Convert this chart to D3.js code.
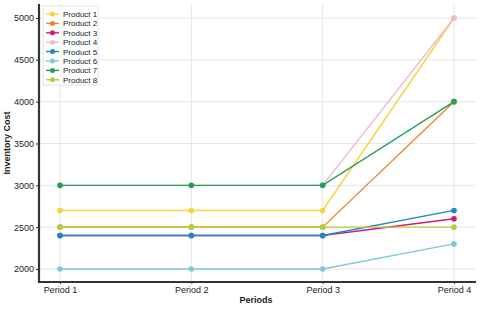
<!DOCTYPE html>
<html>
<head>
<meta charset="utf-8">
<script src="https://cdn.jsdelivr.net/npm/d3@7"></script>
<style>
	body { margin: 0; background: #fff; }
	svg { font-family: "Liberation Sans", Arial, sans-serif; }
</style>
</head>
<body>
<div id="chart"></div>
<script>
var periods = [ "Period 1", "Period 2", "Period 3", "Period 4" ];
var products = [ "Product 1", "Product 2", "Product 3", "Product 4", "Product 5", "Product 6", "Product 7", "Product 8" ];
var product1 = [ 2700, 2700, 2700, 5000 ];
var product2 = [ 2500, 2500, 2500, 4000 ];
var product3 = [ 2400, 2400, 2400, 2600 ];
var product4 = [ 3000, 3000, 3000, 5000 ];
var product5 = [ 2400, 2400, 2400, 2700 ];
var product6 = [ 2000, 2000, 2000, 2300 ];
var product7 = [ 3000, 3000, 3000, 4000 ];
var product8 = [ 2500, 2500, 2500, 2500 ];
var yTicks = [ 2000, 2500, 3000, 3500, 4000, 4500, 5000 ];
var colors = [ "#f7d43c", "#e98a2c", "#d4187c", "#f3b8d3", "#1f87c8", "#7ccad8", "#23a056", "#b2cf3b" ];

var seriesValues = [ product1, product2, product3, product4, product5, product6, product7, product8 ];

var width = 480, height = 309;
var margin = { top: 4, right: 4, bottom: 27, left: 39 };

var svg = d3.select( "#chart" ).append( "svg" )
	.attr( "width", width )
	.attr( "height", height );

var x = d3.scalePoint()
	.domain( periods )
	.range( [ 60, 454 ] );

var y = d3.scaleLinear()
	.domain( [ 2000, 5000 ] )
	.range( [ 269, 18 ] );

var plotLeft = margin.left, plotRight = width - margin.right;
var plotTop = margin.top, plotBottom = height - margin.bottom;

// grid
var grid = svg.append( "g" );
grid.selectAll( "line.h" )
	.data( yTicks )
	.enter().append( "line" )
	.attr( "x1", plotLeft ).attr( "x2", plotRight )
	.attr( "y1", function( d ) { return y( d ); } )
	.attr( "y2", function( d ) { return y( d ); } )
	.attr( "stroke", "#e6e6e6" ).attr( "stroke-width", 1 );
grid.selectAll( "line.v" )
	.data( periods )
	.enter().append( "line" )
	.attr( "y1", plotTop ).attr( "y2", plotBottom )
	.attr( "x1", function( d ) { return x( d ); } )
	.attr( "x2", function( d ) { return x( d ); } )
	.attr( "stroke", "#e6e6e6" ).attr( "stroke-width", 1 );

// series
var line = d3.line()
	.x( function( d, i ) { return x( periods[ i ] ); } )
	.y( function( d ) { return y( d ); } );

var series = svg.append( "g" ).selectAll( "g" )
	.data( seriesValues )
	.enter().append( "g" );

series.append( "path" )
	.attr( "d", function( d ) { return line( d ); } )
	.attr( "fill", "none" )
	.attr( "stroke", function( d, i ) { return colors[ i ]; } )
	.attr( "stroke-width", 1.4 );

series.each( function( vals, si ) {
	d3.select( this ).selectAll( "circle" )
		.data( vals )
		.enter().append( "circle" )
		.attr( "cx", function( d, i ) { return x( periods[ i ] ); } )
		.attr( "cy", function( d ) { return y( d ); } )
		.attr( "r", 2.8 )
		.attr( "fill", colors[ si ] );
} );

// axes
var yAxis = svg.append( "g" )
	.attr( "transform", "translate(" + plotLeft + ",0)" )
	.call( d3.axisLeft( y ).tickValues( yTicks ).tickFormat( d3.format( "d" ) ).tickSize( 3 ).tickPadding( 2 ) );
yAxis.select( ".domain" ).remove();
yAxis.selectAll( "text" ).attr( "font-size", 9 ).attr( "fill", "#222" ).attr( "font-family", "Liberation Sans, Arial, sans-serif" );
yAxis.selectAll( ".tick line" ).attr( "stroke", "#333" );

var xAxis = svg.append( "g" )
	.attr( "transform", "translate(0," + plotBottom + ")" )
	.call( d3.axisBottom( x ).tickSize( 2 ).tickPadding( 3 ) );
xAxis.select( ".domain" ).remove();
xAxis.selectAll( "text" ).attr( "font-size", 9 ).attr( "fill", "#222" ).attr( "font-family", "Liberation Sans, Arial, sans-serif" );
xAxis.selectAll( ".tick line" ).attr( "stroke", "#333" );

svg.append( "line" )
	.attr( "x1", plotLeft ).attr( "x2", plotLeft )
	.attr( "y1", plotTop ).attr( "y2", plotBottom + 1 )
	.attr( "stroke", "#333" ).attr( "stroke-width", 2.2 );
svg.append( "line" )
	.attr( "x1", plotLeft - 1 ).attr( "x2", plotRight )
	.attr( "y1", plotBottom ).attr( "y2", plotBottom )
	.attr( "stroke", "#333" ).attr( "stroke-width", 2.2 );

// axis titles
svg.append( "text" )
	.attr( "x", 256 ).attr( "y", 303 )
	.attr( "text-anchor", "middle" )
	.attr( "font-size", 9 ).attr( "font-weight", "bold" ).attr( "fill", "#222" )
	.text( "Periods" );

svg.append( "text" )
	.attr( "transform", "translate(10," + ( ( plotTop + plotBottom ) / 2 ) + ") rotate(-90)" )
	.attr( "text-anchor", "middle" )
	.attr( "font-size", 9 ).attr( "font-weight", "bold" ).attr( "fill", "#222" )
	.text( "Inventory Cost" );

// legend
var legend = svg.append( "g" ).attr( "transform", "translate(43,6)" );
legend.append( "rect" )
	.attr( "width", 55 ).attr( "height", 79 )
	.attr( "fill", "#fff" ).attr( "fill-opacity", 0.85 )
	.attr( "stroke", "#e2e2e2" ).attr( "stroke-width", 1 );

var entries = legend.selectAll( "g.entry" )
	.data( products )
	.enter().append( "g" )
	.attr( "transform", function( d, i ) { return "translate(0," + ( 8 + i * 9.4 ) + ")"; } );

entries.append( "line" )
	.attr( "x1", 3 ).attr( "x2", 16 )
	.attr( "stroke", function( d, i ) { return colors[ i ]; } )
	.attr( "stroke-width", 1.4 );
entries.append( "circle" )
	.attr( "cx", 9.5 ).attr( "r", 2.5 )
	.attr( "fill", function( d, i ) { return colors[ i ]; } );
entries.append( "text" )
	.attr( "x", 20 ).attr( "y", 3 )
	.attr( "font-size", 8 ).attr( "fill", "#222" )
	.text( function( d ) { return d; } );
</script>
</body>
</html>
